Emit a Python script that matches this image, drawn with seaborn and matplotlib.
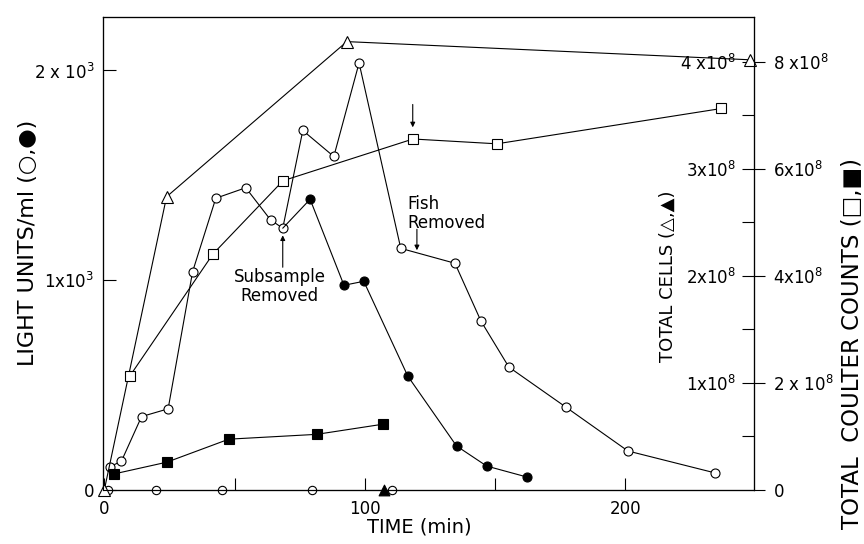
import matplotlib
matplotlib.use("Agg")
import matplotlib.pyplot as plt
import numpy as np
import pandas as pd
import seaborn as sns

# ---------------- data ----------------
light_open_time = [2.1, 6.6, 14.3, 24.5, 33.9, 42.8, 54.3, 63.8, 68.5, 76.2, 88.1, 97.8,
                   113.8, 134.6, 144.6, 155.3, 177.2, 201.0, 234.6]
light_open = [110, 138, 350, 387, 1041, 1391, 1441, 1288, 1248, 1714, 1590, 2036,
              1152, 1081, 805, 586, 395, 186, 81]
branch_index = 8  # "Subsample Removed" point where the filled branch starts

light_filled_time = [79.0, 92.0, 99.6, 116.5, 135.2, 146.8, 162.2]
light_filled = [1386, 976, 995, 543, 210, 114, 62]

light_zero_time = [1.4, 19.8, 45.1, 79.7, 110.3]
light_zero = [0, 0, 0, 0, 0]

cells_open_time = [0, 23.9, 93.1, 248.0]
cells_open = [0, 2.74e8, 4.19e8, 4.02e8]
cells_filled_time = [107.3]
cells_filled = [0]

coulter_open_time = [9.8, 41.7, 68.6, 118.5, 150.7, 236.9]
coulter_open = [2.13e8, 4.41e8, 5.78e8, 6.56e8, 6.47e8, 7.13e8]
coulter_filled_time = [3.7, 24.0, 47.8, 81.5, 107.0]
coulter_filled = [0.30e8, 0.52e8, 0.95e8, 1.04e8, 1.23e8]

x_ticks = [0, 100, 200]
x_ticklabels = ["0", "100", "200"]
x_minor = [50, 150]
light_ticks = [0, 1000, 2000]
light_ticklabels = ["0", "1x10$^{3}$", "2 x 10$^{3}$"]
cells_ticks = [1e8, 2e8, 3e8, 4e8]
cells_ticklabels = ["1x10$^{8}$", "2x10$^{8}$", "3x10$^{8}$", "4 x10$^{8}$"]
cells_minor = [0.5e8, 1.5e8, 2.5e8, 3.5e8]
coulter_ticks = [0, 2e8, 4e8, 6e8, 8e8]
coulter_ticklabels = ["0", "2 x 10$^{8}$", "4x10$^{8}$", "6x10$^{8}$", "8 x10$^{8}$"]

# ---------------- style ----------------
sns.set_theme(style="white")
FAM = ["DejaVu Sans"]
plt.rcParams["font.family"] = FAM
plt.rcParams["mathtext.default"] = "regular"
plt.rcParams["text.color"] = "black"
plt.rcParams["axes.edgecolor"] = "black"
plt.rcParams["xtick.color"] = "black"
plt.rcParams["ytick.color"] = "black"

W, H = 864, 544
fig = plt.figure(figsize=(W / 100, H / 100), dpi=100)
left, right, top, bottom = 103, 754, 17, 490
ax = fig.add_axes([left / W, 1 - bottom / H, (right - left) / W, (bottom - top) / H])
ax2 = ax.twinx()
ax3 = ax.twinx()

ax.set_xlim(-0.5, 249.4)
ax.set_ylim(0, 2255)
ax2.set_ylim(0, 4.42e8)
ax3.set_ylim(0, 8.84e8)

lw = 0.8
common = dict(color="black", linewidth=lw, clip_on=False, markeredgecolor="black",
              markeredgewidth=0.8)

# open circles (light units)
sns.lineplot(x=light_open_time, y=light_open, ax=ax, marker="o", markersize=6.5,
             markerfacecolor="white", zorder=4, **common)
# filled circles branch from the "subsample removed" point
bx = [light_open_time[branch_index]] + light_filled_time
by = [light_open[branch_index]] + light_filled
sns.lineplot(x=bx, y=by, ax=ax, marker="o", markersize=6.5, markerfacecolor="black",
             markevery=list(range(1, len(bx))), zorder=4, **common)
# zero-level circles
sns.scatterplot(x=light_zero_time, y=light_zero, ax=ax, marker="o", s=36,
                facecolor="white", edgecolor="black", linewidth=0.8, clip_on=False, zorder=5)

# total cells (triangles)
sns.lineplot(x=cells_open_time, y=cells_open, ax=ax2, marker="^", markersize=8,
             markerfacecolor="white", zorder=4, **common)
sns.scatterplot(x=cells_filled_time, y=cells_filled, ax=ax2, marker="^", s=60,
                facecolor="black", edgecolor="black", linewidth=0.8, clip_on=False, zorder=5)

# coulter counts (squares)
sns.lineplot(x=coulter_open_time, y=coulter_open, ax=ax3, marker="s", markersize=6.5,
             markerfacecolor="white", zorder=4, **common)
sns.lineplot(x=coulter_filled_time, y=coulter_filled, ax=ax3, marker="s", markersize=6.5,
             markerfacecolor="black", zorder=4, **common)

for a in (ax, ax2, ax3):
    for s in a.spines.values():
        s.set_linewidth(lw)
        s.set_color("black")
    a.set_xlabel("")
    a.set_ylabel("")

tick_font = dict(fontsize=12)

# x axis
ax.set_xticks(x_ticks)
ax.set_xticklabels(x_ticklabels, **tick_font)
ax.set_xticks(x_minor, minor=True)
ax.tick_params(axis="x", which="both", direction="in", length=9, width=lw, pad=7,
               bottom=True, top=False)
# left axis
ax.set_yticks(light_ticks)
ax.set_yticklabels(light_ticklabels, **tick_font)
ax.tick_params(axis="y", which="both", direction="in", length=9, width=lw, pad=6,
               left=True, right=False)

# total cells axis: ticks pointing inward, labels inside the plot
ax2.set_yticks(cells_ticks)
ax2.set_yticklabels(cells_ticklabels, ha="right", **tick_font)
ax2.set_yticks(cells_minor, minor=True)
ax2.tick_params(axis="y", which="both", direction="in", length=9, width=lw, pad=-13,
                right=True, left=False)

# coulter axis: outward ticks, labels outside
ax3.set_yticks(coulter_ticks)
ax3.set_yticklabels(coulter_ticklabels, **tick_font)
ax3.tick_params(axis="y", which="both", direction="out", length=8, width=lw, pad=6,
                right=True, left=False)

# annotations
arrow = dict(arrowstyle="-|>", color="black", lw=0.8, mutation_scale=7, shrinkA=0, shrinkB=0)
ax.annotate("", xy=(68.5, 1214), xytext=(68.5, 1062), arrowprops=arrow)
ax.text(67.4, 969, "Subsample\nRemoved", ha="center", va="center", fontsize=12,
        linespacing=1.05)
ax.annotate("", xy=(120.0, 1143), xytext=(120.0, 1243), arrowprops=arrow)
ax.text(116.5, 1319, "Fish\nRemoved", ha="left", va="center", fontsize=12, linespacing=1.05)
ax.annotate("", xy=(118.4, 1729), xytext=(118.4, 1838), arrowprops=arrow)

# axis titles
fig.text(28 / W, 1 - 243 / H, "LIGHT UNITS/ml (\u25cb,\u25cf)", rotation=90,
         ha="center", va="center", fontsize=16)
fig.text(419 / W, 1 - 527 / H, "TIME (min)", ha="center", va="center", fontsize=14)
fig.text(668 / W, 1 - 276 / H, "TOTAL CELLS (\u25b3,\u25b2)", rotation=90,
         ha="center", va="center", fontsize=13)
fig.text(852 / W, 1 - 158 / H, "TOTAL  COULTER COUNTS (\u25a1,\u25a0)", rotation=90,
         ha="right", va="center", rotation_mode="anchor", fontsize=16.5)

fig.savefig("out.png", dpi=100, facecolor="white")
